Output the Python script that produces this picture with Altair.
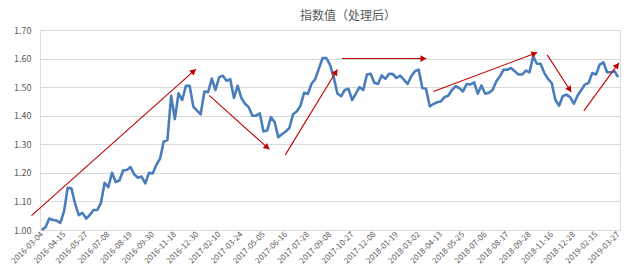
import json
import math
import altair as alt
import pandas as pd

# ---- data ----
values = [
    1.000, 1.010, 1.040, 1.035, 1.033, 1.025, 1.065, 1.148, 1.146, 1.092,
    1.052, 1.060, 1.040, 1.053, 1.070, 1.070, 1.095, 1.165, 1.150, 1.200,
    1.168, 1.173, 1.208, 1.210, 1.220, 1.195, 1.183, 1.187, 1.163, 1.200,
    1.198, 1.228, 1.250, 1.310, 1.315, 1.470, 1.388, 1.478, 1.455, 1.505,
    1.505, 1.432, 1.418, 1.405, 1.485, 1.482, 1.530, 1.490, 1.535, 1.540,
    1.522, 1.528, 1.462, 1.505, 1.462, 1.442, 1.430, 1.400, 1.400, 1.408,
    1.345, 1.348, 1.395, 1.378, 1.325, 1.335, 1.345, 1.357, 1.405, 1.415,
    1.435, 1.480, 1.476, 1.512, 1.528, 1.565, 1.602, 1.602, 1.578, 1.535,
    1.478, 1.468, 1.490, 1.494, 1.455, 1.477, 1.500, 1.490, 1.544, 1.547,
    1.515, 1.511, 1.541, 1.529, 1.547, 1.546, 1.532, 1.540, 1.526, 1.511,
    1.538, 1.556, 1.561, 1.497, 1.494, 1.433, 1.441, 1.447, 1.450, 1.465,
    1.470, 1.490, 1.503, 1.497, 1.485, 1.511, 1.509, 1.517, 1.477, 1.506,
    1.477, 1.480, 1.490, 1.520, 1.538, 1.561, 1.561, 1.567, 1.556, 1.544,
    1.544, 1.558, 1.552, 1.608, 1.582, 1.582, 1.550, 1.529, 1.515, 1.456,
    1.435, 1.468, 1.474, 1.465, 1.442, 1.470, 1.490, 1.509, 1.515, 1.550,
    1.544, 1.579, 1.587, 1.552, 1.552, 1.556, 1.535,
]

tick_labels = [
    "2016-03-04", "2016-04-15", "2016-05-27", "2016-07-08", "2016-08-19",
    "2016-09-30", "2016-11-18", "2016-12-30", "2017-02-10", "2017-03-24",
    "2017-05-05", "2017-06-16", "2017-07-28", "2017-09-08", "2017-10-27",
    "2017-12-08", "2018-01-19", "2018-03-02", "2018-04-13", "2018-05-25",
    "2018-07-06", "2018-08-17", "2018-09-28", "2018-11-16", "2018-12-28",
    "2019-02-15", "2019-03-27",
]
label_step = 6
y_ticks = [1.0, 1.1, 1.2, 1.3, 1.4, 1.5, 1.6, 1.7]

# trend arrows (start / end in data units: point index, index value)
arrow_x0 = [-2.8, 45.3, 65.9, 81.2, 106.0, 136.8, 146.7]
arrow_y0 = [1.050, 1.471, 1.263, 1.600, 1.485, 1.613, 1.417]
arrow_x1 = [41.7, 61.6, 80.0, 104.1, 134.1, 143.3, 156.2]
arrow_y1 = [1.563, 1.282, 1.562, 1.600, 1.621, 1.483, 1.585]

title_text = "指数值（处理后）"

# ---- layout ----
W, H = 580, 200
x_dom = [-0.5, len(values) - 0.5]
y_dom = [1.0, 1.7]
px_x = W / (x_dom[1] - x_dom[0])
px_y = H / (y_dom[1] - y_dom[0])

FONT = "Noto Sans CJK SC"
GRAY = "#595959"
BLUE = "#4a7dbb"
RED = "#c00000"

df = pd.DataFrame({"i": list(range(len(values))), "v": values})

# arrow head placement
heads = []
for x0, y0, x1, y1 in zip(arrow_x0, arrow_y0, arrow_x1, arrow_y1):
    dxp = (x1 - x0) * px_x
    dyp = (y1 - y0) * px_y  # upward positive
    ang = math.degrees(math.atan2(dxp, dyp)) % 360
    L = math.hypot(dxp, dyp)
    back = 3.0
    hx = x1 - (dxp / L) * back / px_x
    hy = y1 - (dyp / L) * back / px_y
    heads.append({"hx": hx, "hy": hy, "ang": ang})
arrows = pd.DataFrame({"x0": arrow_x0, "y0": arrow_y0, "x1": arrow_x1, "y1": arrow_y1})
heads_df = pd.DataFrame(heads)

xscale = alt.Scale(domain=x_dom, nice=False, zero=False)
yscale = alt.Scale(domain=y_dom, nice=False, zero=False)

label_expr = json.dumps(tick_labels) + "[round(datum.value / %d)]" % label_step

x_axis = alt.Axis(
    values=list(range(0, len(values), label_step)),
    labelExpr=label_expr,
    labelAngle=-45,
    labelAlign="right",
    labelBaseline="middle",
    labelFont=FONT,
    labelFontSize=8,
    labelColor=GRAY,
    labelPadding=3,
    labelOverlap=False,
    labelBound=False,
    ticks=False,
    grid=False,
    domainColor="#d9d9d9",
    title=None,
)
y_axis = alt.Axis(
    values=y_ticks,
    format=".2f",
    labelFont=FONT,
    labelFontSize=9,
    labelColor=GRAY,
    labelPadding=9,
    labelOverlap=False,
    ticks=False,
    domain=False,
    grid=True,
    gridColor="#d9d9d9",
    gridWidth=1,
    title=None,
)

line = alt.Chart(df).mark_line(color=BLUE, strokeWidth=2.6, strokeJoin="round").encode(
    x=alt.X("i:Q", scale=xscale, axis=x_axis),
    y=alt.Y("v:Q", scale=yscale, axis=y_axis),
)

arrow_lines = alt.Chart(arrows).mark_rule(color=RED, strokeWidth=1.1).encode(
    x=alt.X("x0:Q", scale=xscale, axis=x_axis),
    y=alt.Y("y0:Q", scale=yscale, axis=y_axis),
    x2="x1:Q",
    y2="y1:Q",
)

arrow_heads = alt.Chart(heads_df).mark_point(
    shape="triangle-up", filled=True, color=RED, opacity=1, size=45
).encode(
    x=alt.X("hx:Q", scale=xscale, axis=x_axis),
    y=alt.Y("hy:Q", scale=yscale, axis=y_axis),
    angle=alt.Angle("ang:Q", scale=None),
)

chart = (
    alt.layer(line, arrow_lines, arrow_heads)
    .properties(
        width=W,
        height=H,
        autosize=alt.AutoSizeParams(type="none"),
        padding={"left": 40, "top": 30, "right": 20, "bottom": 50},
        title=alt.Title(
            title_text,
            font=FONT,
            fontSize=12,
            fontWeight="normal",
            color=GRAY,
            anchor="middle",
            offset=3,
            dx=18,
        ),
    )
    .configure_view(strokeWidth=0, strokeOpacity=0)
    .configure(background="white")
)

chart.save("out.html", embed_options={"renderer": "svg", "actions": False})
